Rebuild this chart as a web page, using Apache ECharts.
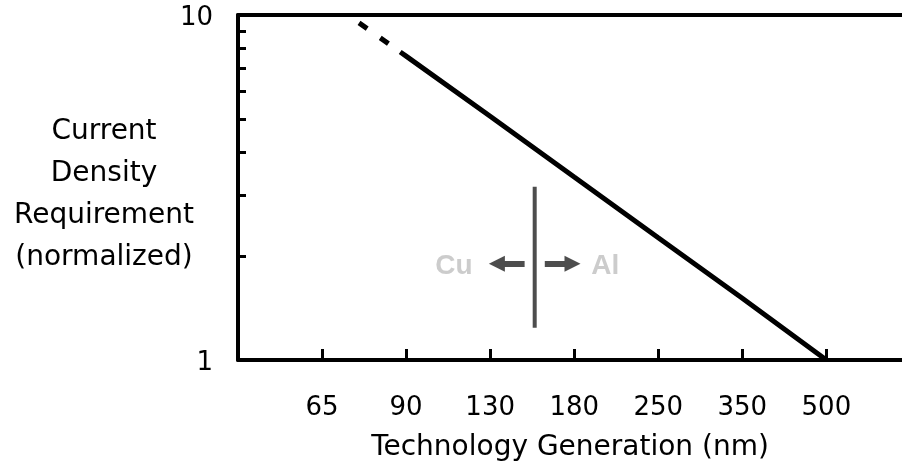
<!DOCTYPE html>
<html>
<head>
<meta charset="utf-8">
<script src="https://cdn.jsdelivr.net/npm/echarts@6/dist/echarts.min.js"></script>
<style>
html,body{margin:0;padding:0;background:#fff}
#main{width:902px;height:474px}
</style>
</head>
<body>
<div id="main"></div>
<script>
// 工艺节点 (nm)，横轴按序号等距排列
var generations = ['65', '90', '130', '180', '250', '350', '500'];
var genIndex = [0, 1, 2, 3, 4, 5, 6];
// 电流密度需求(归一化) - 实线
var solidX = [0.93, 1, 2, 3, 4, 5, 6];
var solidY = [7.81, 7.60, 5.09, 3.39, 2.26, 1.51, 1.0];
// 虚线外推段
var dashX = [0.44, 0.93];
var dashY = [9.49, 7.81];
// Cu / Al 分界线和箭头
var splitX = 2.53;
var splitY = [3.18, 1.24];
var arrowY = 1.90;
var arrowLeft = [2.41, 2.08];
var arrowRight = [2.65, 2.98];
var metalNames = ['Cu', 'Al'];
var metalX = [1.57, 3.37];
var metalY = 1.87;
// 纵轴刻度
var yTicks = [2, 3, 4, 5, 6, 7, 8, 9];
var yLabels = [1, 10];

function pairs(xs, ys) {
    var out = [];
    for (var i = 0; i < xs.length; i++) {
        out.push([xs[i], ys[i]]);
    }
    return out;
}

var chart = echarts.init(document.getElementById('main'));
var black = '#000';
var grey = '#4d4d4d';
var font = 'DejaVu Sans';

var option = {
    backgroundColor: '#fff',
    animation: false,
    grid: { left: 238, right: 0, top: 15, bottom: 114, outerBoundsMode: 'none', containLabel: false },
    xAxis: [{
        type: 'value',
        min: -1,
        max: 6.9,
        interval: 1,
        axisLine: { onZero: false, lineStyle: { color: black, width: 4 } },
        axisTick: { customValues: genIndex, inside: true, length: 11, lineStyle: { color: black, width: 3 } },
        axisLabel: {
            customValues: genIndex,
            formatter: function (v) { return generations[v] || ''; },
            color: black, fontSize: 26, fontFamily: font,
            margin: 48, verticalAlign: 'middle'
        },
        splitLine: { show: false },
        name: 'Technology Generation (nm)',
        nameLocation: 'middle',
        nameGap: 88,
        nameMoveOverlap: false,
        nameTextStyle: { color: black, fontSize: 28, fontFamily: font, verticalAlign: 'middle' }
    }, {
        type: 'value',
        position: 'top',
        min: -1,
        max: 6.9,
        axisLine: { onZero: false, lineStyle: { color: black, width: 4 } },
        axisTick: { show: false },
        axisLabel: { show: false },
        splitLine: { show: false }
    }],
    yAxis: {
        type: 'log',
        logBase: 10,
        min: 1,
        max: 10,
        axisLine: { show: true, onZero: false, lineStyle: { color: black, width: 4 } },
        axisTick: { customValues: yTicks, inside: true, length: 8, lineStyle: { color: black, width: 3 } },
        axisLabel: {
            customValues: yLabels, color: black, fontSize: 26, fontFamily: font,
            margin: 25, verticalAlign: 'top', padding: [-10, 0, 0, 0]
        },
        splitLine: { show: false },
        minorTick: { show: false },
        // 首行为空白小行，用来把整段标题稍微下移
        name: '{s| }\nCurrent\nDensity\nRequirement\n(normalized)',
        nameLocation: 'middle',
        nameRotate: 0,
        nameGap: 134,
        nameMoveOverlap: false,
        nameTextStyle: {
            color: black, fontSize: 28, fontFamily: font, lineHeight: 42,
            align: 'center', verticalAlign: 'middle',
            rich: { s: { fontSize: 10, lineHeight: 14 } }
        }
    },
    series: [{
        type: 'line',
        data: pairs(solidX, solidY),
        symbol: 'none',
        silent: true,
        lineStyle: { color: black, width: 5 }
    }, {
        type: 'line',
        data: pairs(dashX, dashY),
        symbol: 'none',
        silent: true,
        lineStyle: { color: black, width: 5, type: [10, 16] }
    }, {
        type: 'line',
        data: [[splitX, splitY[0]], [splitX, splitY[1]]],
        symbol: 'none',
        silent: true,
        lineStyle: { color: grey, width: 4 }
    }, {
        type: 'lines',
        coordinateSystem: 'cartesian2d',
        silent: true,
        symbol: ['none', 'triangle'],
        symbolSize: 16,
        lineStyle: { color: grey, width: 6, opacity: 1, curveness: 0 },
        data: [
            { coords: [[arrowLeft[0], arrowY], [arrowLeft[1], arrowY]] },
            { coords: [[arrowRight[0], arrowY], [arrowRight[1], arrowY]] }
        ]
    }, {
        type: 'scatter',
        symbolSize: 0,
        silent: true,
        label: {
            show: true,
            position: 'inside',
            formatter: '{b}',
            color: '#bfbfbf',
            fontSize: 28,
            fontWeight: 'bold',
            fontFamily: 'Liberation Sans'
        },
        data: [
            { name: metalNames[0], value: [metalX[0], metalY] },
            { name: metalNames[1], value: [metalX[1], metalY] }
        ]
    }]
};
chart.setOption(option);
</script>
</body>
</html>
